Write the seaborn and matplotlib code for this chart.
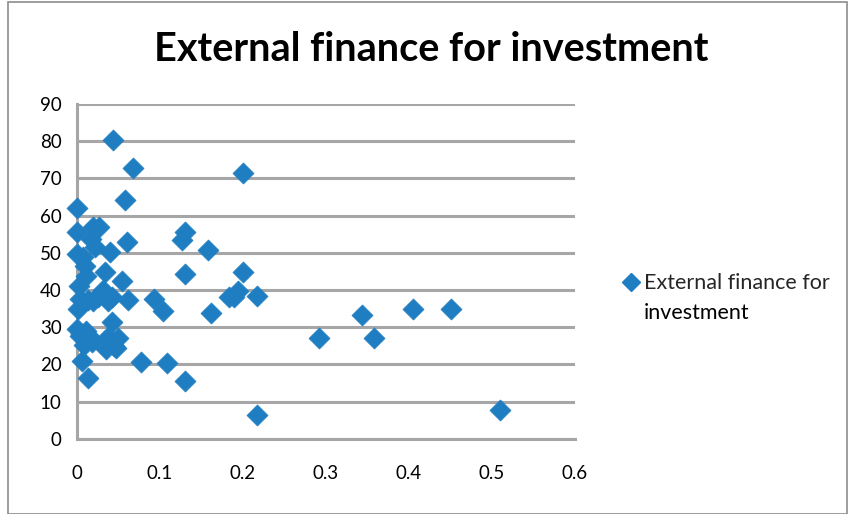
import matplotlib
matplotlib.use("Agg")
import matplotlib.pyplot as plt
import seaborn as sns
import pandas as pd
from matplotlib.patches import Rectangle
from matplotlib.lines import Line2D

x_vals = [0.043, 0.067, 0.200, 0.000, 0.058, 0.000, 0.019, 0.027, 0.060, 0.130,
          0.126, 0.158, 0.017, 0.022, 0.040, 0.000, 0.007, 0.010, 0.011, 0.034,
          0.130, 0.200, 0.054, 0.002, 0.013, 0.031, 0.042, 0.019, 0.025, 0.037,
          0.062, 0.093, 0.189, 0.194, 0.183, 0.217, 0.104, 0.161, 0.001, 0.004,
          0.042, 0.000, 0.011, 0.018, 0.004, 0.037, 0.050, 0.008, 0.018, 0.035,
          0.047, 0.006, 0.077, 0.109, 0.013, 0.130, 0.217, 0.292, 0.343, 0.358,
          0.405, 0.451, 0.510, 0.005, 0.045]
y_vals = [80.2, 72.8, 71.5, 62.0, 64.2, 55.5, 56.8, 57.0, 52.8, 55.5,
          53.5, 50.8, 53.8, 51.5, 50.3, 49.6, 48.8, 46.5, 43.8, 44.8,
          44.2, 44.8, 42.3, 41.0, 37.2, 40.0, 38.0, 37.0, 38.0, 37.0,
          37.4, 37.7, 38.0, 39.8, 38.2, 38.5, 34.3, 33.7, 35.0, 37.5,
          31.4, 29.5, 29.0, 26.8, 27.7, 27.4, 27.0, 25.3, 26.0, 24.2,
          24.5, 21.0, 20.7, 20.5, 16.4, 15.6, 6.4, 27.0, 33.3, 27.0,
          34.8, 34.8, 7.8, 28.2, 25.0]
series_name = "External finance for investment"
legend_lines = ["External finance for", "investment"]
x_ticks = [0, 0.1, 0.2, 0.3, 0.4, 0.5, 0.6]
x_tick_labels = ["0", "0.1", "0.2", "0.3", "0.4", "0.5", "0.6"]
y_ticks = list(range(0, 91, 10))

df = pd.DataFrame({"x": x_vals, "y": y_vals})

sns.set_theme(style="white")
plt.rcParams["font.family"] = ["Lato", "DejaVu Sans"]

fig = plt.figure(figsize=(8.48, 5.14), dpi=100)
ax = fig.add_axes([0.0908, 0.146, 0.587, 0.652])

blue = "#1f7ec2"
grid_c = "#a6a6a6"

sns.scatterplot(data=df, x="x", y="y", ax=ax, marker="D", s=115,
                color=blue, edgecolor=blue, linewidth=0.5, zorder=3, legend=False)
for coll in ax.collections:
    coll.set_clip_on(False)

ax.set_xlim(0, 0.6)
ax.set_ylim(0, 90)
ax.set_xticks(x_ticks)
ax.set_xticklabels(x_tick_labels)
ax.set_yticks(y_ticks)
ax.set_xlabel("")
ax.set_ylabel("")
ax.yaxis.grid(True, color=grid_c, linewidth=2.2)
ax.set_axisbelow(True)
for side in ["top", "right"]:
    ax.spines[side].set_visible(False)
for side in ["left", "bottom"]:
    ax.spines[side].set_color(grid_c)
    ax.spines[side].set_linewidth(2.2)
ax.tick_params(axis="both", which="major", direction="out", length=6, width=2,
               color=grid_c, labelsize=13.5, labelcolor="black")
ax.tick_params(axis="y", pad=5)
ax.tick_params(axis="x", pad=13)

fig.text(0.508, 0.903, series_name, ha="center", va="center",
         fontsize=28.5, fontweight="bold", color="black")

handle = Line2D([], [], marker="D", linestyle="none", color=blue, markersize=9)
fig.legend([handle], [legend_lines[0]], loc="center left",
           bbox_to_anchor=(0.733, 0.449), frameon=False, fontsize=15.5,
           handletextpad=0.15, handlelength=0.9, borderpad=0, borderaxespad=0)
fig.text(0.759, 0.391, legend_lines[1], ha="left", va="center",
         fontsize=15.5, color="black")

fig.patches.append(Rectangle((0.009, 0.0), 0.99, 0.996, transform=fig.transFigure,
                             fill=False, edgecolor="#8c8c8c", linewidth=1.2))

fig.savefig("out.png", dpi=100)
